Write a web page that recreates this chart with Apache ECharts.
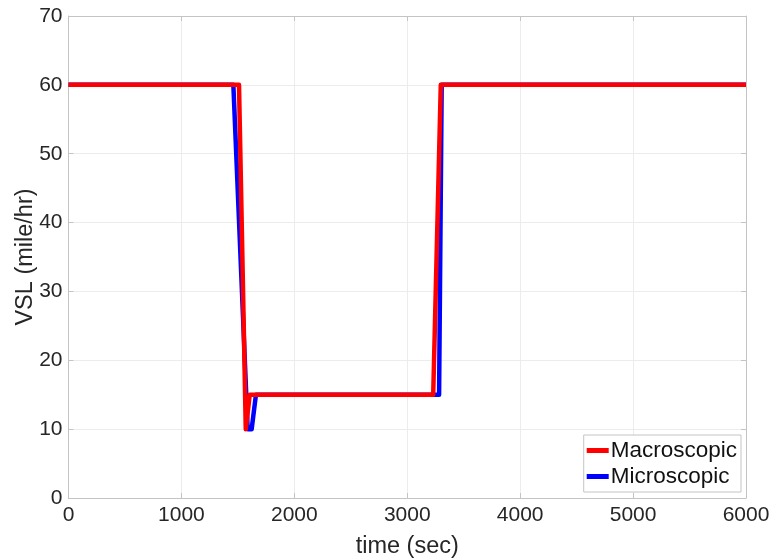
<!DOCTYPE html>
<html><head><meta charset="utf-8">
<script src="https://cdn.jsdelivr.net/npm/echarts@6/dist/echarts.min.js"></script>
<style>html,body{margin:0;padding:0;background:#fff}#c{width:771px;height:559px}</style>
</head><body><div id="c"></div>
<script>
const macroTime = [0, 1510, 1570, 1605, 3230, 3297, 6000];
const macroVSL  = [60, 60, 10, 15, 15, 60, 60];
const microTime = [0, 1460, 1587, 1622, 1660, 3282, 3305, 6000];
const microVSL  = [60, 60, 10, 10, 15, 15, 60, 60];
const xTicks = [0, 1000, 2000, 3000, 4000, 5000, 6000];
const yTicks = [0, 10, 20, 30, 40, 50, 60, 70];

const font = 'Liberation Sans, Helvetica, Arial, sans-serif';
const chart = echarts.init(document.getElementById('c'), null, {renderer: 'canvas'});
const pair = (xs, ys) => xs.map((x, i) => [x, ys[i]]);
const axisCommon = {
  axisLine: {show: true, onZero: false, lineStyle: {color: '#c4c4c4', width: 1}},
  axisTick: {show: true, inside: true, length: 5, lineStyle: {color: '#c4c4c4'}},
};
chart.setOption({
  animation: false,
  backgroundColor: '#fff',
  grid: {left: 68.5, right: 25, top: 16, bottom: 61, containLabel: false, outerBoundsMode: 'none'},
  legend: {
    data: ['Macroscopic', 'Microscopic'],
    orient: 'vertical',
    right: 30, bottom: 67,
    icon: 'rect', itemWidth: 22, itemHeight: 5, itemGap: 3,
    backgroundColor: '#fff', borderColor: '#c4c4c4', borderWidth: 1, borderRadius: 0,
    padding: [4, 4, 4, 3],
    textStyle: {fontFamily: font, fontSize: 22.5, color: '#111', padding: [0, 0, 0, -3]}
  },
  xAxis: [{
    type: 'value', min: 0, max: 6000, interval: 1000,
    name: 'time (sec)', nameLocation: 'middle', nameGap: 37, nameMoveOverlap: false,
    nameTextStyle: {fontFamily: font, fontSize: 23.5, color: '#262626'},
    axisLabel: {fontFamily: font, fontSize: 21, color: '#262626', margin: 7,
      formatter: v => String(v)},
    splitLine: {show: true, lineStyle: {color: '#ececec', width: 1}},
    ...axisCommon
  }, {
    type: 'value', min: 0, max: 6000, interval: 1000, position: 'top',
    axisLabel: {show: false}, splitLine: {show: false}, ...axisCommon
  }],
  yAxis: [{
    type: 'value', min: 0, max: 70, interval: 10,
    name: 'VSL (mile/hr)', nameLocation: 'middle', nameGap: 31, nameMoveOverlap: false,
    nameTextStyle: {fontFamily: font, fontSize: 23.5, color: '#262626'},
    axisLabel: {fontFamily: font, fontSize: 21, color: '#262626', margin: 6},
    splitLine: {show: true, lineStyle: {color: '#ececec', width: 1}},
    ...axisCommon
  }, {
    type: 'value', min: 0, max: 70, interval: 10, position: 'right',
    axisLabel: {show: false}, splitLine: {show: false}, ...axisCommon
  }],
  series: [{
    name: 'Microscopic', type: 'line', data: pair(microTime, microVSL),
    showSymbol: false, symbol: 'none', itemStyle: {color: '#0000ff'},
    lineStyle: {color: '#0000ff', width: 4.5, join: 'round'}
  }, {
    name: 'Macroscopic', type: 'line', data: pair(macroTime, macroVSL),
    showSymbol: false, symbol: 'none', itemStyle: {color: '#ff0000'},
    lineStyle: {color: '#ff0000', width: 4.5, join: 'round'}
  }]
});
</script></body></html>
